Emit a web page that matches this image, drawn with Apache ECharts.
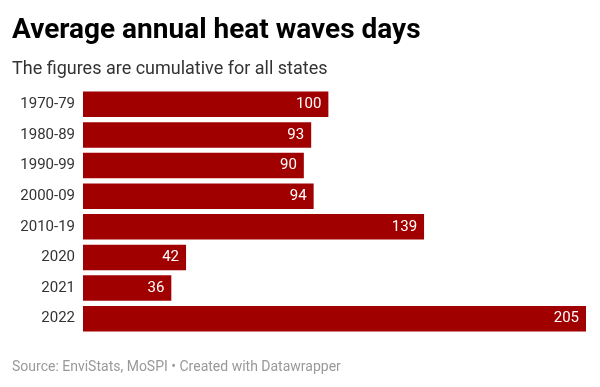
<!DOCTYPE html>
<html><head><meta charset="utf-8">
<script src="https://cdn.jsdelivr.net/npm/echarts@6/dist/echarts.min.js"></script>
<style>html,body{margin:0;padding:0;background:#fff}#c{width:600px;height:387px}</style>
</head><body><div id="c"></div>
<script>
const categories = ["1970-79","1980-89","1990-99","2000-09","2010-19","2020","2021","2022"];
const values = [100,93,90,94,139,42,36,205];
const titleText = "Average annual heat waves days";
const subtitleText = "The figures are cumulative for all states";
const footerText = "Source: EnviStats, MoSPI \u2022 Created with Datawrapper";

const chart = echarts.init(document.getElementById('c'), null, {renderer:'canvas'});
chart.setOption({
  animation:false,
  backgroundColor:'#fff',
  textStyle:{fontFamily:'Roboto'},
  title:[
    {text:titleText,left:7,top:12,textStyle:{fontFamily:'Roboto',fontWeight:'bold',fontSize:28,color:'#000'}},
    {text:subtitleText,left:7,top:55,textStyle:{fontFamily:'Roboto',fontWeight:'normal',fontSize:18,color:'#333'}},
    {text:footerText,left:7,top:355,textStyle:{fontFamily:'Roboto',fontWeight:'normal',fontSize:14,color:'#999'}}
  ],
  grid:{left:83,right:14,top:89,height:245,containLabel:false},
  xAxis:{type:'value',min:0,max:205,show:false},
  yAxis:{type:'category',data:categories,inverse:true,
    axisLine:{show:false},axisTick:{show:false},
    axisLabel:{color:'#333',fontSize:15,fontFamily:'Roboto',margin:8}},
  series:[{type:'bar',data:values,barCategoryGap:'17%',
    itemStyle:{color:'#a00000'},
    label:{show:true,position:'insideRight',distance:7,color:'#fff',fontSize:15,fontFamily:'Roboto'}}]
});
</script></body></html>
